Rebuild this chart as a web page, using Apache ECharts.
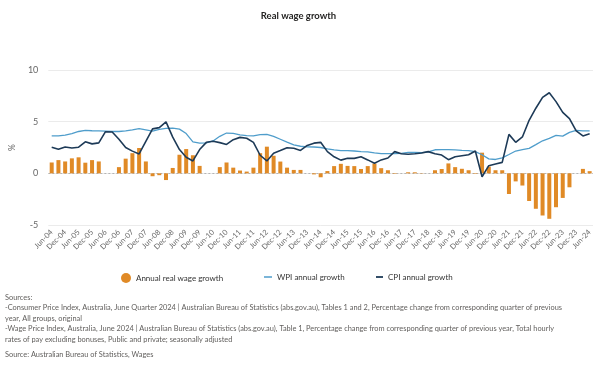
<!DOCTYPE html>
<html>
<head>
<meta charset="utf-8">
<script src="https://cdn.jsdelivr.net/npm/echarts@6/dist/echarts.min.js"></script>
<style>
html,body{margin:0;padding:0;background:#fff;}
#chart{width:597px;height:367px;}
</style>
</head>
<body>
<div id="chart"></div>
<script>
var categories = ["Jun-04","Sep-04","Dec-04","Mar-05","Jun-05","Sep-05","Dec-05","Mar-06","Jun-06","Sep-06","Dec-06","Mar-07","Jun-07","Sep-07","Dec-07","Mar-08","Jun-08","Sep-08","Dec-08","Mar-09","Jun-09","Sep-09","Dec-09","Mar-10","Jun-10","Sep-10","Dec-10","Mar-11","Jun-11","Sep-11","Dec-11","Mar-12","Jun-12","Sep-12","Dec-12","Mar-13","Jun-13","Sep-13","Dec-13","Mar-14","Jun-14","Sep-14","Dec-14","Mar-15","Jun-15","Sep-15","Dec-15","Mar-16","Jun-16","Sep-16","Dec-16","Mar-17","Jun-17","Sep-17","Dec-17","Mar-18","Jun-18","Sep-18","Dec-18","Mar-19","Jun-19","Sep-19","Dec-19","Mar-20","Jun-20","Sep-20","Dec-20","Mar-21","Jun-21","Sep-21","Dec-21","Mar-22","Jun-22","Sep-22","Dec-22","Mar-23","Jun-23","Sep-23","Dec-23","Mar-24","Jun-24"];

var realWageGrowth = [1.05,1.28,1.15,1.45,1.55,1.03,1.28,1.15,0,0,0.6,1.42,1.95,2.45,1.15,-0.28,-0.18,-0.65,0.52,1.8,2.35,1.75,0.72,0,0,0.6,1.05,0.55,0.27,0.17,0.55,1.95,2.58,1.7,1.14,0.55,0.33,0.33,0,-0.1,-0.38,0.22,0.7,0.92,0.72,0.7,0.42,0.7,0.95,0.5,0.3,-0.05,0,0.1,0.1,0.03,0,0.3,0.42,0.96,0.6,0.44,0.3,-0.05,2.0,0.65,0.3,0.3,-2.0,-0.78,-1.18,-2.68,-3.43,-4.08,-4.4,-3.28,-2.38,-1.35,0,0.43,0.21];

var wpiGrowth = [3.62,3.62,3.7,3.85,4.05,4.15,4.12,4.1,4.08,4.05,4.05,4.1,4.2,4.32,4.2,4.08,4.25,4.35,4.38,4.28,3.85,3.05,2.92,2.95,3.13,3.58,3.9,3.87,3.72,3.65,3.62,3.74,3.77,3.58,3.3,3.02,2.76,2.62,2.56,2.55,2.5,2.36,2.27,2.2,2.2,2.16,2.1,2.08,1.97,1.9,1.9,1.9,1.94,2.02,2.02,2.0,2.08,2.28,2.3,2.3,2.27,2.23,2.2,2.1,1.8,1.4,1.34,1.5,1.82,2.16,2.3,2.42,2.78,3.15,3.38,3.68,3.6,3.97,4.15,4.1,4.1];

var cpiGrowth = [2.52,2.33,2.55,2.45,2.53,3.05,2.85,2.95,4.03,4.0,3.3,2.5,2.15,1.88,3.1,4.3,4.42,4.98,3.5,2.3,1.55,1.2,2.3,3.0,3.1,2.97,2.8,3.26,3.48,3.4,3.0,1.75,1.2,1.95,2.2,2.48,2.42,2.22,2.7,2.92,3.0,2.1,1.6,1.28,1.45,1.45,1.6,1.3,0.98,1.3,1.48,2.1,1.9,1.84,1.9,1.97,2.1,1.9,1.77,1.32,1.6,1.7,1.8,2.16,-0.33,0.74,0.9,1.06,3.77,3.0,3.52,5.13,6.3,7.35,7.8,6.94,5.9,5.3,4.1,3.62,3.82];

var yTicks = [-5, 0, 5, 10];

var sourceLines = [
  "Sources:",
  "-Consumer Price Index, Australia, June Quarter 2024 | Australian Bureau of Statistics (abs.gov.au), Tables 1 and 2, Percentage change from corresponding quarter of previous",
  "year, All groups, original",
  "-Wage Price Index, Australia, June 2024 | Australian Bureau of Statistics (abs.gov.au), Table 1, Percentage change from corresponding quarter of previous year, Total hourly",
  "rates of pay excluding bonuses, Public and private; seasonally adjusted",
  "Source: Australian Bureau of Statistics, Wages"
];
var sourceTops = [294, 304.5, 315, 325.5, 336, 351];

var FONT = "Lato, 'Open Sans', sans-serif";
var chart = echarts.init(document.getElementById('chart'));

var legendText = {fontSize: 8, color: '#333', fontFamily: FONT};

var option = {
  backgroundColor: '#fff',
  animation: false,
  textStyle: {fontFamily: FONT},
  title: {
    text: 'Real wage growth',
    left: 'center',
    top: 6,
    textStyle: {fontSize: 9.5, fontWeight: 'bold', color: '#252423', fontFamily: FONT}
  },
  legend: [
    {left: 121, top: 273, padding: 0, itemWidth: 10, itemHeight: 10, icon: 'circle', data: ['Annual real wage growth'], textStyle: legendText},
    {left: 264, top: 273, padding: 0, itemWidth: 8, itemHeight: 1.5, icon: 'rect', data: ['WPI annual growth'], textStyle: legendText},
    {left: 376, top: 273, padding: 0, itemWidth: 7, itemHeight: 1.8, icon: 'rect', data: ['CPI annual growth'], textStyle: legendText}
  ],
  grid: {left: 43, right: 4, top: 70, bottom: 142, containLabel: false},
  xAxis: {
    type: 'category',
    data: categories,
    boundaryGap: true,
    axisLine: {show: false, onZero: false},
    axisTick: {show: false},
    axisLabel: {interval: 1, rotate: 45, fontSize: 7.5, color: '#666', margin: 6, fontFamily: FONT},
    splitLine: {show: false}
  },
  yAxis: {
    type: 'value',
    min: -5, max: 10, interval: 5,
    name: '%',
    nameLocation: 'middle',
    nameRotate: 90,
    nameGap: 25,
    nameTextStyle: {fontSize: 8.5, color: '#666', fontFamily: FONT},
    axisLine: {show: false},
    axisTick: {show: false},
    axisLabel: {fontSize: 9, color: '#666', margin: 10, fontFamily: FONT,
      formatter: function (v) { return yTicks.indexOf(v) >= 0 ? String(v) : ''; }},
    splitLine: {lineStyle: {color: '#ebebeb', width: 1}}
  },
  series: [
    {
      name: 'Annual real wage growth',
      type: 'bar',
      data: realWageGrowth,
      barWidth: 4,
      itemStyle: {color: '#E08A26'},
      z: 2,
      markLine: {
        silent: true, symbol: 'none', label: {show: false},
        lineStyle: {color: '#b5b5b5', type: [2, 2], width: 1},
        data: [{yAxis: 0}],
        z: 1
      }
    },
    {
      name: 'WPI annual growth',
      type: 'line',
      data: wpiGrowth,
      symbol: 'none',
      lineStyle: {color: '#4F9DCB', width: 1.3},
      itemStyle: {color: '#4F9DCB'},
      z: 3
    },
    {
      name: 'CPI annual growth',
      type: 'line',
      data: cpiGrowth,
      symbol: 'none',
      lineStyle: {color: '#1D3A57', width: 1.6},
      itemStyle: {color: '#1D3A57'},
      z: 4
    }
  ],
  graphic: sourceLines.map(function (t, i) {
    return {
      type: 'text', left: 5, top: sourceTops[i],
      style: {text: t, fontSize: 7.4, fill: '#605E5C', fontFamily: FONT}
    };
  })
};
chart.setOption(option);
</script>
</body>
</html>
